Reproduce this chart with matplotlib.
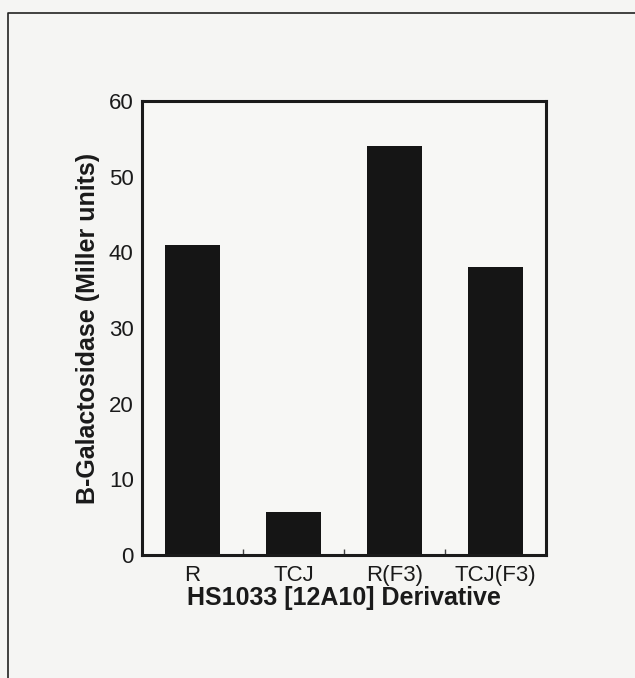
import numpy as np
import matplotlib.pyplot as plt

# beta-galactosidase activity per derivative
derivatives = ['R', 'TCJ', 'R(F3)', 'TCJ(F3)']
activity = [41, 5.7, 54, 38]
yticks = [0, 10, 20, 30, 40, 50, 60]

plt.rcParams['font.family'] = ['Liberation Sans', 'DejaVu Sans']

fig = plt.figure(figsize=(6.35, 6.78), dpi=100)
fig.patch.set_facecolor('#f5f5f3')

# outer frame (left and top edges only)
frame = plt.Line2D([8 / 635, 8 / 635, 1.0], [0.0, 1 - 13 / 678, 1 - 13 / 678],
                   transform=fig.transFigure, color='#222222', lw=1.2)
fig.add_artist(frame)

ax = fig.add_axes([142 / 635, 1 - 555 / 678, 404 / 635, 454 / 678])
ax.set_facecolor('#f7f7f5')

x = np.arange(len(derivatives))
ax.bar(x, activity, width=0.55, color='#151515', edgecolor='none')

ax.set_xlim(-0.5, len(derivatives) - 0.5)
ax.set_ylim(0, 60)
ax.set_yticks(yticks)
ax.set_xticks(x)
ax.set_xticklabels(derivatives)
ax.set_xticks(x[:-1] + 0.5, minor=True)

ax.tick_params(axis='y', length=0, pad=6, labelsize=16, colors='#1a1a1a')
ax.tick_params(axis='x', which='major', length=0, pad=7, labelsize=16, colors='#1a1a1a')
ax.tick_params(axis='x', which='minor', direction='in', length=4, width=1, color='#444444')

for s in ax.spines.values():
    s.set_linewidth(2.2)
    s.set_color('#1a1a1a')

ax.set_xlabel('HS1033 [12A10] Derivative', fontsize=18, fontweight='bold',
              color='#1a1a1a', labelpad=0)
ax.set_ylabel('B-Galactosidase (Miller units)', fontsize=18, fontweight='bold',
              color='#1a1a1a', labelpad=6)

fig.savefig('out.png', dpi=100, facecolor=fig.get_facecolor())
